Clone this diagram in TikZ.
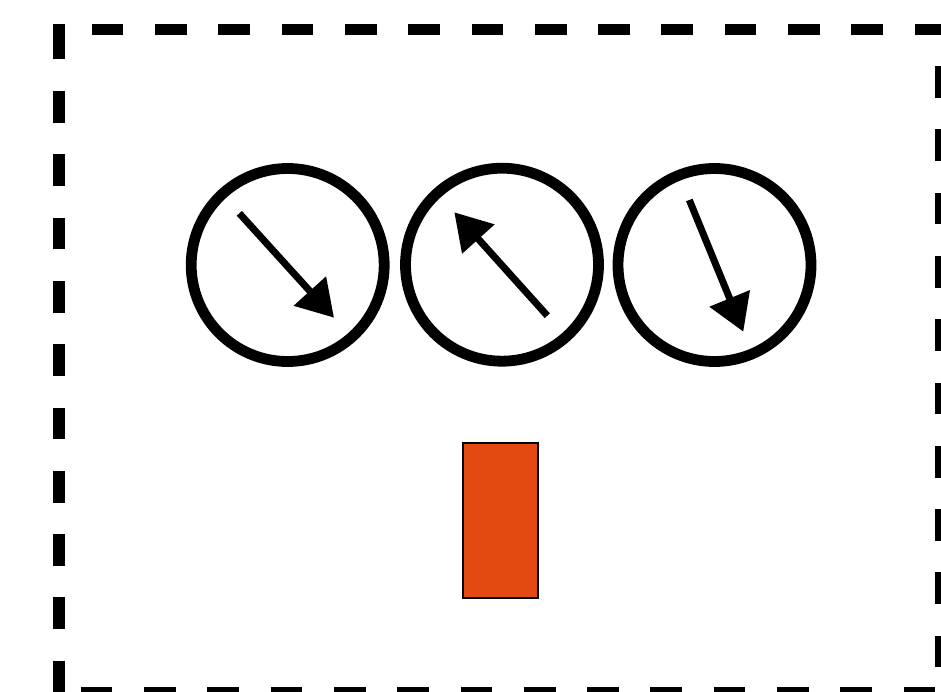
\documentclass[tikz,border=0pt]{standalone}
\usetikzlibrary{arrows.meta}
\definecolor{boxorange}{RGB}{226,74,18}
\tikzset{
  frameline/.style={line width=11.5pt, dash pattern=on 31.7pt off 31.6pt},
  dial/.style={circle, draw, line width=10.8pt, minimum size=193pt, inner sep=0pt},
  spin/.style={line width=7pt, -{Triangle[length=36pt,width=42pt]}},
  block/.style={draw, line width=2pt, fill=boxorange, minimum width=75pt, minimum height=155pt, inner sep=0pt}
}
\begin{document}
\begin{tikzpicture}[x=1pt,y=-1pt]
\useasboundingbox (0,0) rectangle (941,692);
\clip (0,0) rectangle (941,692);
% dashed frame
\coordinate (tl) at (59,29.5);
\coordinate (tr) at (941,29.5);
\coordinate (bl) at (59,692.5);
\coordinate (br) at (941,692.5);
\draw[frameline, dash phase=30.6pt] (tl) -- (tr);
\draw[frameline] (59,27.7) -- (bl);
\fill (53.25,24) rectangle (64.75,28);
\draw[frameline, dash phase=26.8pt] (tr) -- (br);
\draw[frameline, dash phase=41.6pt] (bl) -- (br);
% dials
\node[dial] (c1) at (287.7,265) {};
\node[dial] (c2) at (502,264.7) {};
\node[dial] (c3) at (714.5,265) {};
\coordinate (a1s) at (239.3,213.3);
\coordinate (a1e) at (334,317.7);
\coordinate (a2s) at (547.3,315.7);
\coordinate (a2e) at (454.3,212.3);
\coordinate (a3s) at (689.3,200);
\coordinate (a3e) at (743.3,331.7);
\draw[spin] (a1s) -- (a1e);
\draw[spin] (a2s) -- (a2e);
\draw[spin] (a3s) -- (a3e);
% block
\node[block] (blk) at (500.8,520.8) {};
\end{tikzpicture}
\end{document}
